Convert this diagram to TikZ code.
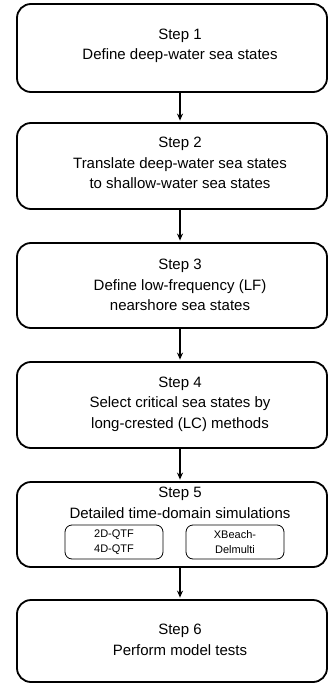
\documentclass[tikz,border=0pt]{standalone}
\usepackage{fontspec}
\setmainfont{Liberation Sans}
\usetikzlibrary{positioning, arrows.meta, calc}

\begin{document}
\begin{tikzpicture}[x=1pt, y=-1pt, font=\fontsize{15}{20.5}\selectfont,
  stepbox/.style={draw, line width=1.8pt, rounded corners=14pt, minimum width=310pt, inner sep=0pt},
  steptext/.style={align=center, inner sep=0pt},
  subbox/.style={draw, line width=0.8pt, rounded corners=7pt, minimum width=98pt, minimum height=34pt,
    align=center, inner sep=0pt, font=\fontsize{11}{15}\selectfont},
  flow/.style={-{Stealth[length=7pt, width=6pt]}, line width=1.5pt, shorten >=1.5pt}]
\useasboundingbox (0,0) rectangle (331,684);

% frames of the six steps
\node[stepbox, minimum height=88pt] (b1) at (172,48) {};
\node[stepbox, minimum height=86pt] (b2) at (172,166) {};
\node[stepbox, minimum height=85pt] (b3) at (172,285.5) {};
\node[stepbox, minimum height=86pt] (b4) at (172,405) {};
\node[stepbox, minimum height=85pt] (b5) at (172,524.5) {};
\node[stepbox, minimum height=82pt] (b6) at (172,641) {};

% texts
\node[steptext] (t1) at (180,46) {Step 1\\Define deep-water sea states};
\node[steptext] (t2) at (180,163) {Step 2\\Translate deep-water sea states\\to shallow-water sea states};
\node[steptext] (t3) at (180,285) {Step 3\\Define low-frequency (LF)\\nearshore sea states};
\node[steptext] (t4) at (180,404) {Step 4\\Select critical sea states by\\long-crested (LC) methods};
\node[steptext] (t5) at (180,503) {Step 5\\Detailed time-domain simulations};
\node[steptext] (t6) at (180,640) {Step 6\\Perform model tests};

% sub-boxes of step 5
\node[subbox] (q1) at (114,542) {2D-QTF\\4D-QTF};
\node[subbox] (q2) at (235,542) {XBeach-\\Delmulti};

% arrows
\draw[flow] (t1 |- b1.south) -- (t1 |- b2.north);
\draw[flow] (t2 |- b2.south) -- (t2 |- b3.north);
\draw[flow] (t3 |- b3.south) -- (t3 |- b4.north);
\draw[flow] (t4 |- b4.south) -- (t4 |- b5.north);
\draw[flow] (t5 |- b5.south) -- (t5 |- b6.north);
\end{tikzpicture}
\end{document}
